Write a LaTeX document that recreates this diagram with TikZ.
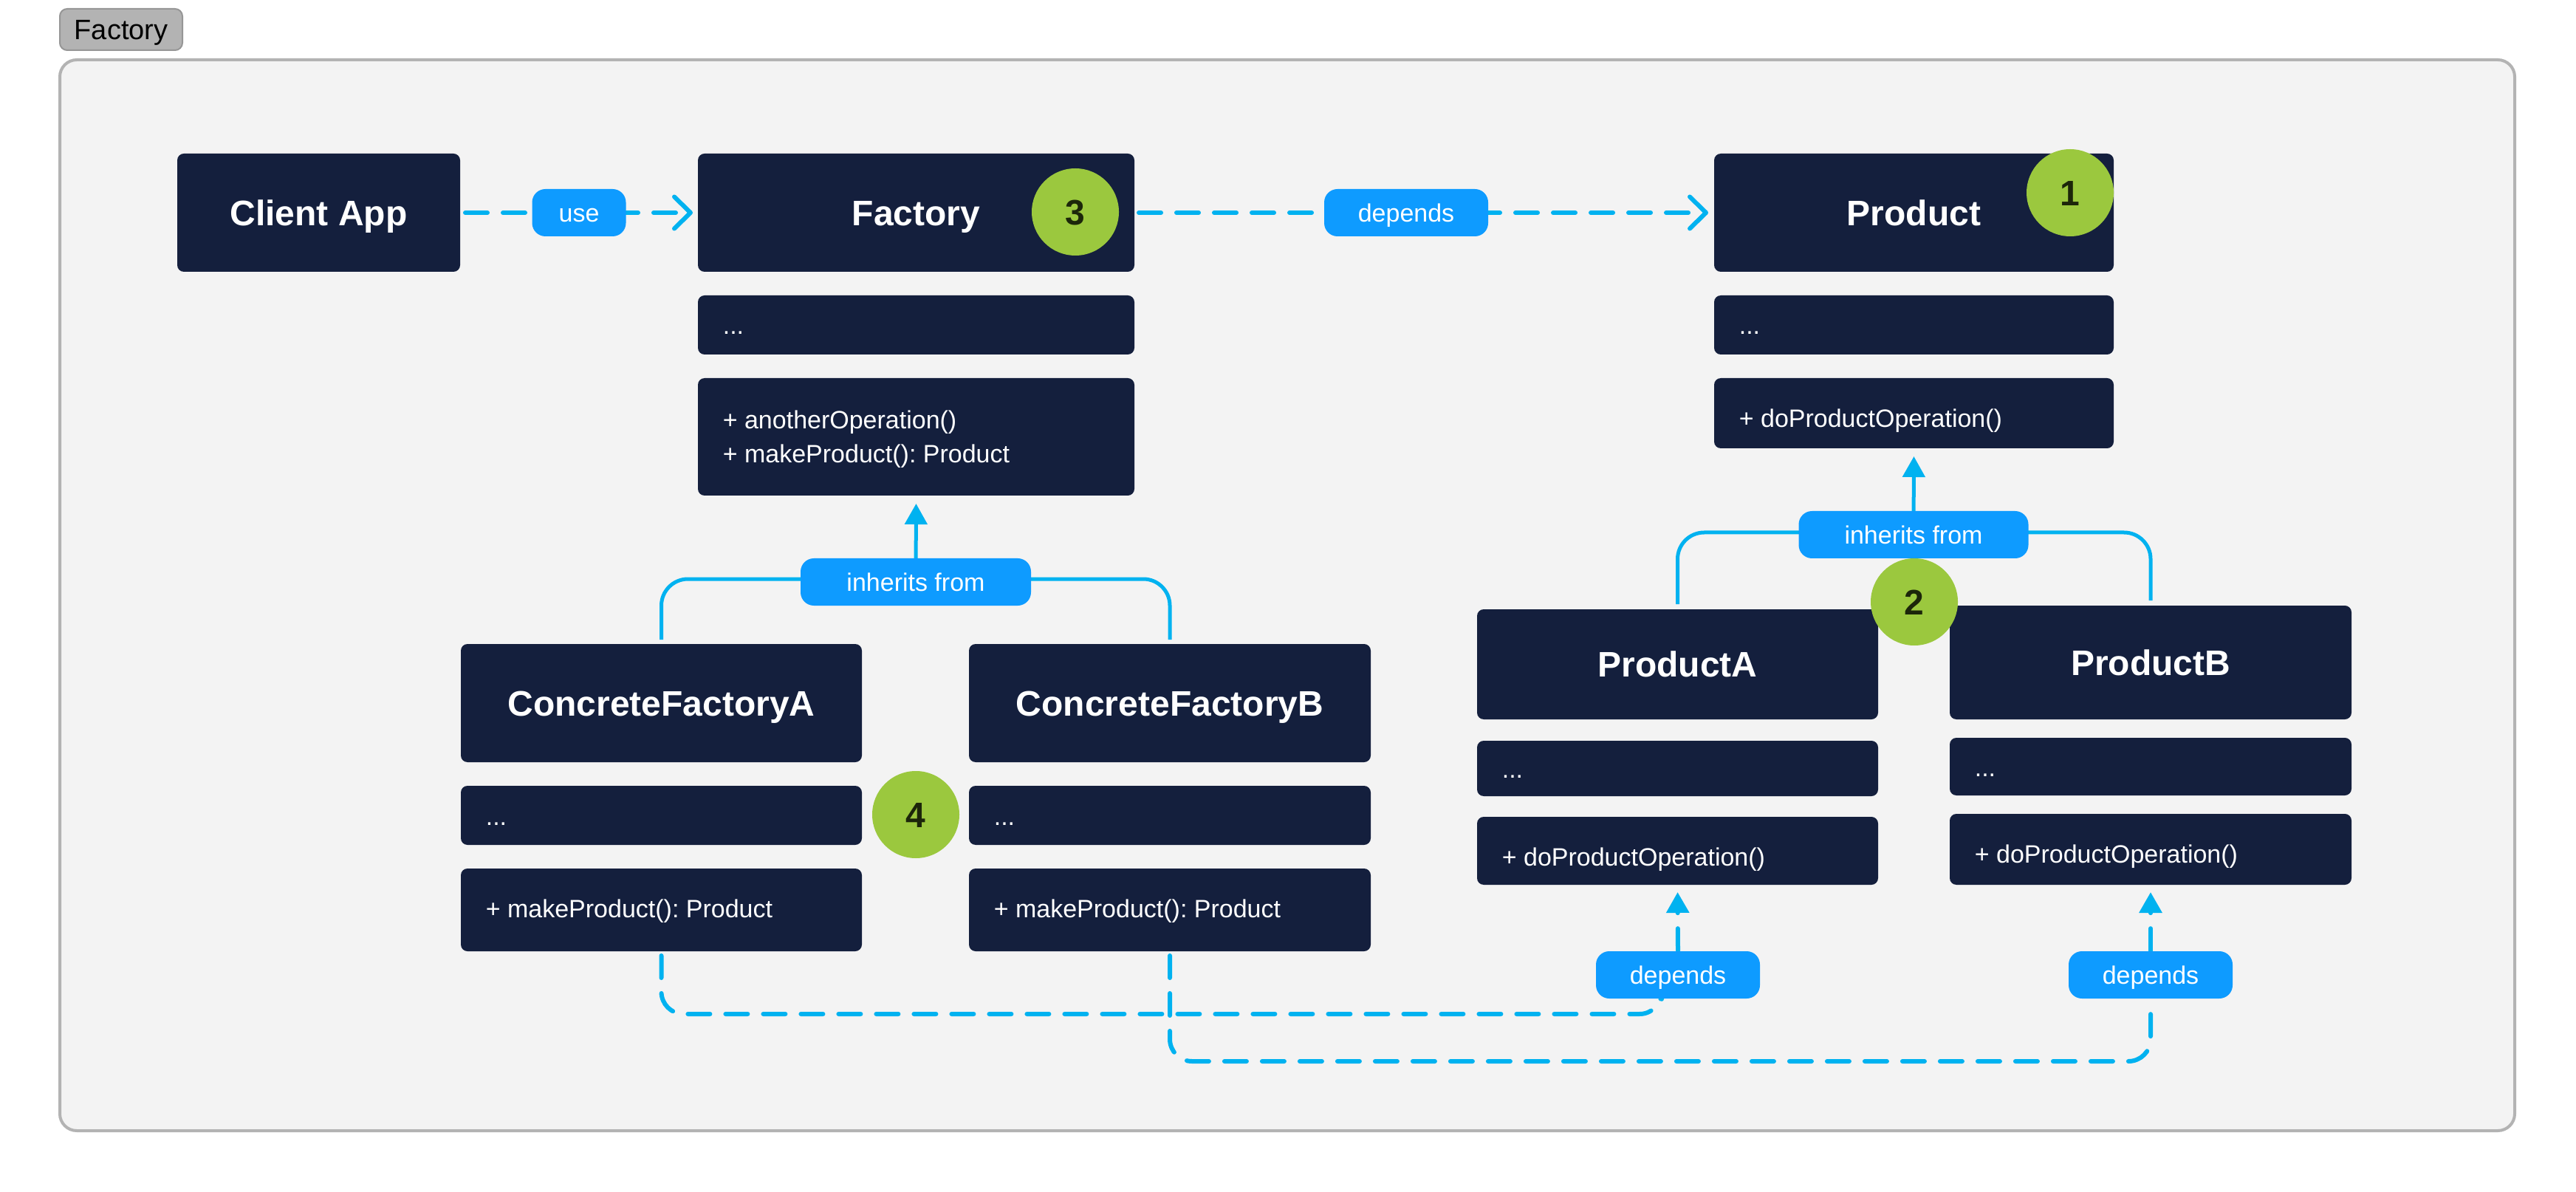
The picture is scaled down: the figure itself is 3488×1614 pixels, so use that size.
\documentclass[tikz,border=0pt]{standalone}
\usepackage{fontspec}
\setmainfont{Liberation Sans}
\usetikzlibrary{arrows.meta,calc}
\pgfdeclarelayer{bg}
\pgfsetlayers{bg,main}
\definecolor{navy}{RGB}{20,31,61}
\definecolor{lblue}{RGB}{14,155,255}
\definecolor{lineblue}{RGB}{0,178,240}
\definecolor{badgegreen}{RGB}{155,200,62}
\definecolor{badgetext}{RGB}{28,38,10}
\definecolor{framefill}{RGB}{243,243,243}
\definecolor{framedraw}{RGB}{179,179,179}
\definecolor{tagdraw}{RGB}{150,150,150}
\newcommand\umlbox[6]{\node[#1, minimum width={(#4-#2)*0.25pt}, minimum height={(#5-#3)*0.25pt}] (#6) at ({(#2+#4)/2},{(#3+#5)/2})}
\tikzset{
  frame/.style={draw=framedraw, line width=1pt, fill=framefill, rounded corners=5.75pt, inner sep=0pt},
  tagbox/.style={draw=tagdraw, line width=0.5pt, fill=framedraw, rounded corners=2.5pt, inner sep=0pt, font=\fontsize{9.5}{11}\selectfont, text=black, text height=6.8pt, text depth=0pt},
  box/.style={fill=navy, rounded corners=2.25pt, inner sep=0pt, outer sep=0pt},
  title/.style={box, text=white, font=\bfseries\fontsize{12}{14}\selectfont, text height=8.6pt, text depth=0pt},
  member/.style={text=white, font=\fontsize{8.5}{10}\selectfont\frenchspacing, inner sep=0pt},
  lbl/.style={fill=lblue, text=white, rounded corners=4.5pt, minimum height=16pt, inner sep=0pt, font=\fontsize{8.5}{10}\selectfont, text height=6.1pt, text depth=0pt},
  badge/.style={circle, fill=badgegreen, text=badgetext, minimum size=29.5pt, inner sep=0pt, font=\bfseries\fontsize{12}{14}\selectfont, text height=8.6pt, text depth=0pt},
  inh/.style={draw=lineblue, line width=1.25pt, rounded corners=9pt},
  dep/.style={draw=lineblue, line width=1.5pt, dash pattern=on 7.5pt off 5.25pt, line cap=round, rounded corners=7.5pt},
  openhead/.style={-{Straight Barb[length=5.5pt,width=10.75pt,round]}},
  filledhead/.style={-{Triangle[length=7pt,width=7.5pt]}},
}
\begin{document}
\begin{tikzpicture}[x=0.25pt,y=-0.25pt]
\useasboundingbox (0,0) rectangle (3488,1614);

% frame and tag
\begin{pgfonlayer}{bg}
\fill[white] (0,0) rectangle (3488,1614);
\umlbox{frame}{81}{81}{3405}{1531}{frame} {};
\end{pgfonlayer}
\umlbox{tagbox}{81}{12}{247}{68}{tag} {Factory};

% Client
\umlbox{title}{240}{208}{623}{368}{client} {Client App};

% Factory
\umlbox{title}{945}{208}{1536}{368}{fT} {Factory};
\umlbox{box}{945}{400}{1536}{480}{fA} {};
\umlbox{box}{945}{512}{1536}{671}{fM} {};
\node[member, anchor=base west] (fA1) at (978,453) {...};
\node[member, anchor=west] (fM1) at (978,572) {+ anotherOperation()};
\node[member, anchor=west] (fM2) at (978,618) {+ makeProduct(): Product};

% Product
\umlbox{title}{2321}{208}{2862}{368}{pT} {Product};
\umlbox{box}{2321}{400}{2862}{480}{pA} {};
\umlbox{box}{2321}{512}{2862}{607}{pM} {};
\node[member, anchor=base west] (pA1) at (2354,453) {...};
\node[member, anchor=west] (pM1) at (2354,570) {+ doProductOperation()};

% ConcreteFactoryA
\umlbox{title}{624}{872}{1167}{1032}{cfaT} {ConcreteFactoryA};
\umlbox{box}{624}{1064}{1167}{1144}{cfaA} {};
\umlbox{box}{624}{1176}{1167}{1288}{cfaM} {};
\node[member, anchor=base west] (cfaA1) at (657,1117) {...};
\node[member, anchor=west] (cfaM1) at (657,1234) {+ makeProduct(): Product};

% ConcreteFactoryB
\umlbox{title}{1312}{872}{1856}{1032}{cfbT} {ConcreteFactoryB};
\umlbox{box}{1312}{1064}{1856}{1144}{cfbA} {};
\umlbox{box}{1312}{1176}{1856}{1288}{cfbM} {};
\node[member, anchor=base west] (cfbA1) at (1345,1117) {...};
\node[member, anchor=west] (cfbM1) at (1345,1234) {+ makeProduct(): Product};

% ProductA
\umlbox{title}{2000}{825}{2543}{974}{paT} {ProductA};
\umlbox{box}{2000}{1003}{2543}{1078}{paA} {};
\umlbox{box}{2000}{1106}{2543}{1198}{paM} {};
\node[member, anchor=base west] (paA1) at (2033,1053) {...};
\node[member, anchor=west] (paM1) at (2033,1164) {+ doProductOperation()};

% ProductB
\umlbox{title}{2640}{820}{3184}{974}{pbT} {ProductB};
\umlbox{box}{2640}{999}{3184}{1077}{pbA} {};
\umlbox{box}{2640}{1102}{3184}{1198}{pbM} {};
\node[member, anchor=base west] (pbA1) at (2673,1051) {...};
\node[member, anchor=west] (pbM1) at (2673,1160) {+ doProductOperation()};

% labels
\node[lbl, minimum width=31.75pt] (use) at (784,288) {use};
\node[lbl, minimum width=55.5pt] (depTop) at (1904,288) {depends};
\node[lbl, minimum width=78pt] (inhF) at (1240,788) {inherits from};
\node[lbl, minimum width=77.75pt] (inhP) at (2591,724) {inherits from};
\node[lbl, minimum width=55.5pt] (depA) at (2272,1320) {depends};
\node[lbl, minimum width=55.5pt] (depB) at (2912,1320) {depends};

% badges
\node[badge] (b1) at (2803,261) {1};
\node[badge] (b2) at (2592,815) {2};
\node[badge] (b3) at (1456,287) {3};
\node[badge] (b4) at (1240,1103) {4};

% connectors
\coordinate (jF) at (1240,784);
\coordinate (jP) at (2591,721);
\coordinate (cA) at (2250,1373);
\coordinate (cB) at (2912,1437);
\begin{pgfonlayer}{bg}
\draw[dep, openhead, shorten <=1.75pt, shorten >=1.75pt] (client.east) -- (fT.west);
\draw[dep, openhead, shorten <=1.5pt, shorten >=2pt] (fT.east) -- (pT.west);
\draw[inh, shorten <=1.5pt, shorten >=1.5pt] (cfaT.north) |- (jF) -| (cfbT.north);
\draw[inh, filledhead, shorten >=2.75pt] (jF) -- (fM.south);
\draw[inh, shorten <=1.75pt, shorten >=1.75pt] (paT.north) |- (jP) -| (pbT.north);
\draw[inh, filledhead, shorten >=2.75pt] (jP) -- (pM.south);
\draw[dep, shorten <=1.5pt] (cfaM.south) |- (cA) -- (cA |- depA.south);
\draw[dep, filledhead, shorten >=2.5pt] (depA.north) -- (paM.south);
\draw[dep, shorten <=1.5pt] (cfbM.south) |- (cB) -- (depB.south);
\draw[dep, filledhead, shorten >=2.5pt] (depB.north) -- (pbM.south);
\end{pgfonlayer}
\end{tikzpicture}
\end{document}
